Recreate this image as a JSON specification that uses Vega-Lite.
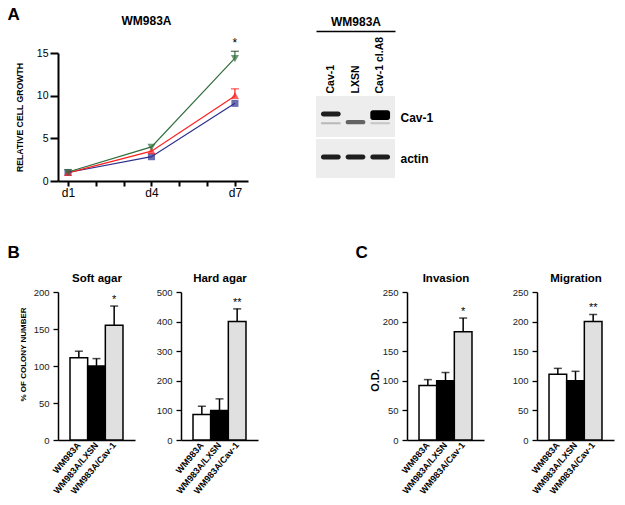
{
  "$schema": "https://vega.github.io/schema/vega-lite/v6.json",
  "padding": {"left": 7, "top": 5, "right": 2, "bottom": 0},
  "background": "white",
  "config": {
    "font": "Liberation Sans",
    "view": {"stroke": null},
    "axis": {"grid": false, "domainColor": "black", "tickColor": "black", "labelColor": "black", "titleColor": "black"},
    "title": {"color": "black"}
  },
  "resolve": {"scale": {"color": "independent", "shape": "independent", "fill": "independent", "stroke": "independent"}},
  "spacing": 45,
  "vconcat": [
    {
      "spacing": 68,
      "resolve": {"scale": {"color": "independent", "shape": "independent", "stroke": "independent"}},
      "hconcat": [
        {
          "width": 190,
          "height": 128,
          "data": {"values": [
            {"line": "LXSN", "day": 1, "growth": 1.0},
            {"line": "LXSN", "day": 4, "growth": 2.85},
            {"line": "LXSN", "day": 7, "growth": 9.1},
            {"line": "Cav-1", "day": 1, "growth": 0.95},
            {"line": "Cav-1", "day": 4, "growth": 3.5},
            {"line": "Cav-1", "day": 7, "growth": 9.95, "upper": 10.8},
            {"line": "Cav-1 cl.A8", "day": 1, "growth": 1.05},
            {"line": "Cav-1 cl.A8", "day": 4, "growth": 4.0},
            {"line": "Cav-1 cl.A8", "day": 7, "growth": 14.4, "upper": 15.2, "sig": "*"}
          ]},
          "layer": [
            {
              "encoding": {
                "x": {"field": "day", "type": "quantitative", "scale": {"domain": [0.64, 7.47], "nice": false, "zero": false},
                  "axis": {"values": [1, 2, 3, 4, 5, 6, 7], "labelExpr": "datum.value == 1 ? 'd1' : datum.value == 4 ? 'd4' : datum.value == 7 ? 'd7' : ''", "title": null, "domainWidth": 2, "tickWidth": 2, "tickSize": 5, "labelFontSize": 12, "labelPadding": 1, "labelFlush": false}},
                "y": {"field": "growth", "type": "quantitative", "title": "RELATIVE CELL GROWTH", "scale": {"domain": [0, 15], "nice": false},
                  "axis": {"values": [0, 5, 10, 15], "titleFontSize": 8.7, "titleFontWeight": "bold", "titlePadding": 12, "labelFontSize": 10.5, "labelPadding": 2, "tickSize": 8, "tickWidth": 2, "domainWidth": 2}}
              },
              "layer": [
                {
                  "mark": {"type": "line", "strokeWidth": 1.2},
                  "encoding": {
                    "stroke": {"field": "line", "type": "nominal", "scale": {"domain": ["LXSN", "Cav-1", "Cav-1 cl.A8"], "range": ["#2b2f8e", "#ff1f1f", "#2f6e3b"]}, "legend": null}
                  }
                },
                {
                  "transform": [{"filter": "isValid(datum.upper)"}],
                  "mark": {"type": "rule", "strokeWidth": 1.2},
                  "encoding": {
                    "y2": {"field": "upper"},
                    "stroke": {"field": "line", "type": "nominal", "legend": null}
                  }
                },
                {
                  "transform": [{"filter": "datum.line === 'Cav-1' && isValid(datum.upper)"}],
                  "mark": {"type": "tick", "orient": "horizontal", "size": 8, "thickness": 1.3, "color": "#ff1f1f"},
                  "encoding": {"y": {"field": "upper", "type": "quantitative", "title": "RELATIVE CELL GROWTH"}}
                },
                {
                  "transform": [{"filter": "datum.line === 'Cav-1 cl.A8' && isValid(datum.upper)"}],
                  "mark": {"type": "tick", "orient": "horizontal", "size": 8, "thickness": 1.3, "color": "#1f3d24"},
                  "encoding": {"y": {"field": "upper", "type": "quantitative", "title": "RELATIVE CELL GROWTH"}}
                },
                {
                  "mark": {"type": "point", "filled": true, "size": 50},
                  "encoding": {
                    "color": {"field": "line", "type": "nominal", "title": null, "scale": {"domain": ["LXSN", "Cav-1", "Cav-1 cl.A8"], "range": ["#2b2f8e", "#ff1f1f", "#2f6e3b"]},
                      "legend": {"orient": "top-left", "offset": 21, "labelFontSize": 11, "labelColor": "black", "symbolSize": 49, "labelOffset": 5, "rowPadding": 3}},
                    "shape": {"field": "line", "type": "nominal", "title": null, "scale": {"domain": ["LXSN", "Cav-1", "Cav-1 cl.A8"], "range": ["M-1,-1H1V1H-1Z", "M0,-1.15L1.15,0.85H-1.15Z", "M0,1.15L1.15,-0.85H-1.15Z"]},
                      "legend": {"orient": "top-left", "offset": 21, "labelFontSize": 11, "labelColor": "black", "symbolSize": 49, "labelOffset": 5, "rowPadding": 3}}
                  }
                }
              ]
            },
            {
              "transform": [{"filter": "datum.sig"}],
              "mark": {"type": "text", "baseline": "bottom", "dy": -1, "fontSize": 12, "color": "black"},
              "encoding": {
                "x": {"field": "day", "type": "quantitative",
                  "axis": {"orient": "top", "title": "WM983A", "labels": false, "ticks": false, "domain": false, "titleFontSize": 12, "titleFontWeight": "bold", "titlePadding": 26, "titleX": 88, "titleAlign": "center"}},
                "y": {"field": "upper", "type": "quantitative",
                  "axis": {"orient": "left", "title": "A", "labels": false, "ticks": false, "domain": false, "titleAngle": 0, "titleX": -51, "titleY": -47, "titleAlign": "left", "titleBaseline": "top", "titleFontSize": 17, "titleFontWeight": "bold"}},
                "text": {"field": "sig"}
              }
            }
          ],
          "resolve": {"axis": {"x": "independent", "y": "independent"}}
        },
        {
          "spacing": 2,
          "vconcat": [
            {
              "width": 79,
              "height": 84,
              "data": {"values": [
                {"lane": "Cav-1", "kda_hi": 23.0, "kda_lo": 22.0, "intensity": 0.88},
                {"lane": "Cav-1", "kda_hi": 20.9, "kda_lo": 20.5, "intensity": 0.2},
                {"lane": "LXSN", "kda_hi": 21.3, "kda_lo": 20.5, "intensity": 0.55},
                {"lane": "Cav-1 cl.A8", "kda_hi": 23.2, "kda_lo": 21.3, "intensity": 1.0},
                {"lane": "Cav-1 cl.A8", "kda_hi": 20.9, "kda_lo": 20.5, "intensity": 0.15}
              ]},
              "layer": [
                {
                  "data": {"values": [{"kda_hi": 26, "kda_lo": 18}]},
                  "mark": {"type": "rect", "color": "#ededed"},
                  "encoding": {
                    "y": {"field": "kda_hi", "type": "quantitative"},
                    "y2": {"field": "kda_lo"}
                  }
                },
                {
                  "mark": {"type": "rect", "cornerRadius": 2.5},
                  "encoding": {
                    "x": {"field": "lane", "type": "nominal", "sort": null, "scale": {"domain": ["Cav-1", "LXSN", "Cav-1 cl.A8"], "paddingInner": 0.2, "paddingOuter": 0.2},
                      "axis": {"orient": "top", "offset": -43, "title": null, "labelAngle": -90, "labelFontSize": 10.5, "labelFontWeight": "bold", "domain": false, "ticks": false, "labelPadding": 3}},
                    "y": {"field": "kda_hi", "type": "quantitative", "scale": {"domain": [18, 34.4], "nice": false, "zero": false},
                      "axis": {"orient": "right", "title": "Cav-1", "labels": false, "ticks": false, "domain": false, "titleAngle": 0, "titleFontSize": 12, "titleFontWeight": "bold", "titleAlign": "left", "titleBaseline": "middle", "titlePadding": 5, "titleY": 64}},
                    "y2": {"field": "kda_lo"},
                    "fill": {"field": "intensity", "type": "quantitative", "scale": {"domain": [0, 1], "range": ["#ececec", "#000000"]}, "legend": null}
                  }
                },
                {
                  "mark": {"type": "rect", "opacity": 0},
                  "encoding": {
                    "x": {"field": "lane", "type": "nominal", "sort": null,
                      "axis": {"orient": "top", "offset": 22, "labels": false, "ticks": false, "domain": true, "domainWidth": 1.3, "title": "WM983A", "titleFontSize": 12, "titleFontWeight": "bold", "titlePadding": 3}}
                  }
                }
              ],
              "resolve": {"axis": {"x": "independent"}}
            },
            {
              "width": 79,
              "height": 39,
              "view": {"fill": "#ededed", "stroke": null},
              "data": {"values": [
                {"lane": "Cav-1", "kda_hi": 42.8, "kda_lo": 41.8, "intensity": 0.88},
                {"lane": "LXSN", "kda_hi": 42.8, "kda_lo": 41.8, "intensity": 0.88},
                {"lane": "Cav-1 cl.A8", "kda_hi": 42.8, "kda_lo": 41.8, "intensity": 0.88}
              ]},
              "mark": {"type": "rect", "cornerRadius": 2.5},
              "encoding": {
                "x": {"field": "lane", "type": "nominal", "sort": null, "scale": {"domain": ["Cav-1", "LXSN", "Cav-1 cl.A8"], "paddingInner": 0.2, "paddingOuter": 0.2}, "axis": null},
                "y": {"field": "kda_hi", "type": "quantitative", "scale": {"domain": [38, 46], "nice": false, "zero": false},
                  "axis": {"orient": "right", "title": "actin", "labels": false, "ticks": false, "domain": false, "titleAngle": 0, "titleFontSize": 12, "titleFontWeight": "bold", "titleAlign": "left", "titleBaseline": "middle", "titlePadding": 5}},
                "y2": {"field": "kda_lo"},
                "fill": {"field": "intensity", "type": "quantitative", "scale": {"domain": [0, 1], "range": ["#ececec", "#000000"]}, "legend": null}
              }
            }
          ]
        }
      ]
    },
    {
      "spacing": 97,
      "hconcat": [
        {
          "spacing": 21,
          "hconcat": [
            {
              "width": 77, "height": 148,
              "data": {"values": [
                {"group": "WM983A", "value": 111, "upper": 120},
                {"group": "WM983A/LXSN", "value": 100, "upper": 110},
                {"group": "WM983A/Cav-1", "value": 155, "upper": 181, "sig": "*"}
              ]},
              "layer": [
                {
                  "encoding": {
                    "x": {"field": "group", "type": "nominal", "sort": null, "scale": {"domain": ["WM983A", "WM983A/LXSN", "WM983A/Cav-1"], "paddingInner": 0, "paddingOuter": 0.68},
                      "axis": {"title": null, "labelAngle": -50, "labelFontSize": 9, "labelFontWeight": "bold", "ticks": false, "domainWidth": 1.5, "labelPadding": 3}},
                    "y": {"field": "value", "type": "quantitative", "title": "% OF COLONY NUMBER", "scale": {"domain": [0, 200], "nice": false},
                      "axis": {"values": [0, 50, 100, 150, 200], "titleFontSize": 8, "titleFontWeight": "bold", "titlePadding": 6, "titleY": 62, "labelFontSize": 9.5, "labelColor": "#222", "labelPadding": 4, "tickSize": 5, "tickWidth": 1.3, "domainWidth": 1.5}}
                  },
                  "layer": [
                    {"mark": {"type": "bar", "stroke": "black", "strokeWidth": 1.5},
                      "encoding": {"fill": {"field": "group", "type": "nominal", "scale": {"domain": ["WM983A", "WM983A/LXSN", "WM983A/Cav-1"], "range": ["#ffffff", "#000000", "#e0e0e0"]}, "legend": null}}},
                    {"mark": {"type": "rule", "strokeWidth": 1.5, "color": "black"}, "encoding": {"y2": {"field": "upper"}}},
                    {"mark": {"type": "tick", "orient": "horizontal", "size": 8, "thickness": 1.5, "color": "black"}, "encoding": {"y": {"field": "upper", "type": "quantitative", "title": "% OF COLONY NUMBER"}}}
                  ]
                },
                {
                  "transform": [{"filter": "datum.sig"}],
                  "mark": {"type": "text", "baseline": "bottom", "dy": -1, "fontSize": 11, "color": "black"},
                  "encoding": {
                    "x": {"field": "group", "type": "nominal", "sort": null,
                      "axis": {"orient": "top", "title": "Soft agar", "labels": false, "ticks": false, "domain": false, "titleFontSize": 11.5, "titleFontWeight": "bold", "titlePadding": 9}},
                    "y": {"field": "upper", "type": "quantitative",
                      "axis": {"orient": "left", "title": "B", "labels": false, "ticks": false, "domain": false, "titleAngle": 0, "titleX": -51, "titleY": -48, "titleAlign": "left", "titleBaseline": "top", "titleFontSize": 17, "titleFontWeight": "bold"}},
                    "text": {"field": "sig"}
                  }
                }
              ],
              "resolve": {"axis": {"x": "independent", "y": "independent"}}
            },
            {
              "width": 77, "height": 148,
              "data": {"values": [
                {"group": "WM983A", "value": 86, "upper": 114},
                {"group": "WM983A/LXSN", "value": 100, "upper": 139},
                {"group": "WM983A/Cav-1", "value": 400, "upper": 443, "sig": "**"}
              ]},
              "layer": [
                {
                  "encoding": {
                    "x": {"field": "group", "type": "nominal", "sort": null, "scale": {"domain": ["WM983A", "WM983A/LXSN", "WM983A/Cav-1"], "paddingInner": 0, "paddingOuter": 0.68},
                      "axis": {"title": null, "labelAngle": -50, "labelFontSize": 9, "labelFontWeight": "bold", "ticks": false, "domainWidth": 1.5, "labelPadding": 3}},
                    "y": {"field": "value", "type": "quantitative", "title": null, "scale": {"domain": [0, 500], "nice": false},
                      "axis": {"values": [0, 100, 200, 300, 400, 500], "labelFontSize": 9.5, "labelColor": "#222", "labelPadding": 4, "tickSize": 5, "tickWidth": 1.3, "domainWidth": 1.5}}
                  },
                  "layer": [
                    {"mark": {"type": "bar", "stroke": "black", "strokeWidth": 1.5},
                      "encoding": {"fill": {"field": "group", "type": "nominal", "scale": {"domain": ["WM983A", "WM983A/LXSN", "WM983A/Cav-1"], "range": ["#ffffff", "#000000", "#e0e0e0"]}, "legend": null}}},
                    {"mark": {"type": "rule", "strokeWidth": 1.5, "color": "black"}, "encoding": {"y2": {"field": "upper"}}},
                    {"mark": {"type": "tick", "orient": "horizontal", "size": 8, "thickness": 1.5, "color": "black"}, "encoding": {"y": {"field": "upper", "type": "quantitative", "title": null}}}
                  ]
                },
                {
                  "transform": [{"filter": "datum.sig"}],
                  "mark": {"type": "text", "baseline": "bottom", "dy": -1, "fontSize": 11, "color": "black"},
                  "encoding": {
                    "x": {"field": "group", "type": "nominal", "sort": null,
                      "axis": {"orient": "top", "title": "Hard agar", "labels": false, "ticks": false, "domain": false, "titleFontSize": 11.5, "titleFontWeight": "bold", "titlePadding": 9}},
                    "y": {"field": "upper", "type": "quantitative", "axis": null},
                    "text": {"field": "sig"}
                  }
                }
              ],
              "resolve": {"axis": {"x": "independent", "y": "independent"}}
            }
          ]
        },
        {
          "spacing": 28,
          "hconcat": [
            {
              "width": 77, "height": 148,
              "data": {"values": [
                {"group": "WM983A", "value": 92, "upper": 102},
                {"group": "WM983A/LXSN", "value": 100, "upper": 114},
                {"group": "WM983A/Cav-1", "value": 183, "upper": 206, "sig": "*"}
              ]},
              "layer": [
                {
                  "encoding": {
                    "x": {"field": "group", "type": "nominal", "sort": null, "scale": {"domain": ["WM983A", "WM983A/LXSN", "WM983A/Cav-1"], "paddingInner": 0, "paddingOuter": 0.68},
                      "axis": {"title": null, "labelAngle": -50, "labelFontSize": 9, "labelFontWeight": "bold", "ticks": false, "domainWidth": 1.5, "labelPadding": 3}},
                    "y": {"field": "value", "type": "quantitative", "title": "O.D.", "scale": {"domain": [0, 250], "nice": false},
                      "axis": {"values": [0, 50, 100, 150, 200, 250], "titleFontSize": 11, "titleFontWeight": "bold", "titlePadding": 2, "titleY": 88, "labelFontSize": 9.5, "labelColor": "#222", "labelPadding": 4, "tickSize": 5, "tickWidth": 1.3, "domainWidth": 1.5}}
                  },
                  "layer": [
                    {"mark": {"type": "bar", "stroke": "black", "strokeWidth": 1.5},
                      "encoding": {"fill": {"field": "group", "type": "nominal", "scale": {"domain": ["WM983A", "WM983A/LXSN", "WM983A/Cav-1"], "range": ["#ffffff", "#000000", "#e0e0e0"]}, "legend": null}}},
                    {"mark": {"type": "rule", "strokeWidth": 1.5, "color": "black"}, "encoding": {"y2": {"field": "upper"}}},
                    {"mark": {"type": "tick", "orient": "horizontal", "size": 8, "thickness": 1.5, "color": "black"}, "encoding": {"y": {"field": "upper", "type": "quantitative", "title": "O.D."}}}
                  ]
                },
                {
                  "transform": [{"filter": "datum.sig"}],
                  "mark": {"type": "text", "baseline": "bottom", "dy": -1, "fontSize": 11, "color": "black"},
                  "encoding": {
                    "x": {"field": "group", "type": "nominal", "sort": null,
                      "axis": {"orient": "top", "title": "Invasion", "labels": false, "ticks": false, "domain": false, "titleFontSize": 11.5, "titleFontWeight": "bold", "titlePadding": 9}},
                    "y": {"field": "upper", "type": "quantitative",
                      "axis": {"orient": "left", "title": "C", "labels": false, "ticks": false, "domain": false, "titleAngle": 0, "titleX": -52, "titleY": -48, "titleAlign": "left", "titleBaseline": "top", "titleFontSize": 17, "titleFontWeight": "bold"}},
                    "text": {"field": "sig"}
                  }
                }
              ],
              "resolve": {"axis": {"x": "independent", "y": "independent"}}
            },
            {
              "width": 77, "height": 148,
              "data": {"values": [
                {"group": "WM983A", "value": 111, "upper": 121},
                {"group": "WM983A/LXSN", "value": 100, "upper": 116},
                {"group": "WM983A/Cav-1", "value": 200, "upper": 212, "sig": "**"}
              ]},
              "layer": [
                {
                  "encoding": {
                    "x": {"field": "group", "type": "nominal", "sort": null, "scale": {"domain": ["WM983A", "WM983A/LXSN", "WM983A/Cav-1"], "paddingInner": 0, "paddingOuter": 0.68},
                      "axis": {"title": null, "labelAngle": -50, "labelFontSize": 9, "labelFontWeight": "bold", "ticks": false, "domainWidth": 1.5, "labelPadding": 3}},
                    "y": {"field": "value", "type": "quantitative", "title": null, "scale": {"domain": [0, 250], "nice": false},
                      "axis": {"values": [0, 50, 100, 150, 200, 250], "labelFontSize": 9.5, "labelColor": "#222", "labelPadding": 4, "tickSize": 5, "tickWidth": 1.3, "domainWidth": 1.5}}
                  },
                  "layer": [
                    {"mark": {"type": "bar", "stroke": "black", "strokeWidth": 1.5},
                      "encoding": {"fill": {"field": "group", "type": "nominal", "scale": {"domain": ["WM983A", "WM983A/LXSN", "WM983A/Cav-1"], "range": ["#ffffff", "#000000", "#e0e0e0"]}, "legend": null}}},
                    {"mark": {"type": "rule", "strokeWidth": 1.5, "color": "black"}, "encoding": {"y2": {"field": "upper"}}},
                    {"mark": {"type": "tick", "orient": "horizontal", "size": 8, "thickness": 1.5, "color": "black"}, "encoding": {"y": {"field": "upper", "type": "quantitative", "title": null}}}
                  ]
                },
                {
                  "transform": [{"filter": "datum.sig"}],
                  "mark": {"type": "text", "baseline": "bottom", "dy": -1, "fontSize": 11, "color": "black"},
                  "encoding": {
                    "x": {"field": "group", "type": "nominal", "sort": null,
                      "axis": {"orient": "top", "title": "Migration", "labels": false, "ticks": false, "domain": false, "titleFontSize": 11.5, "titleFontWeight": "bold", "titlePadding": 9}},
                    "y": {"field": "upper", "type": "quantitative", "axis": null},
                    "text": {"field": "sig"}
                  }
                }
              ],
              "resolve": {"axis": {"x": "independent", "y": "independent"}}
            }
          ]
        }
      ]
    }
  ]
}
